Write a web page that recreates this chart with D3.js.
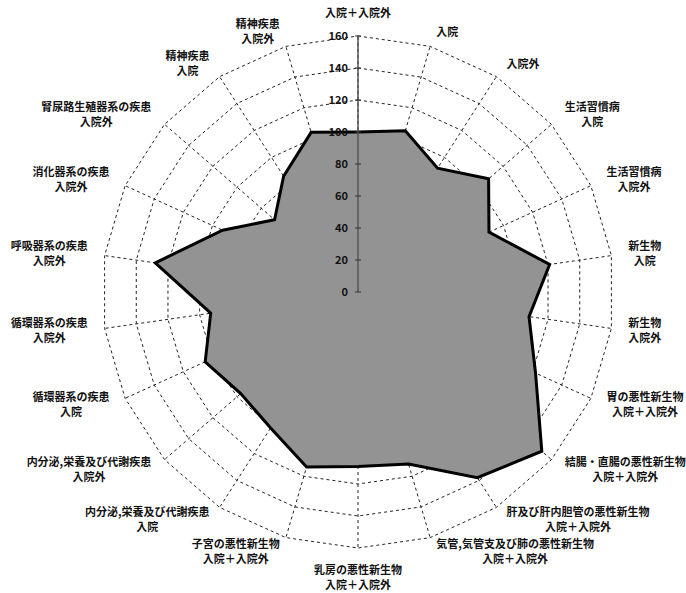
<!DOCTYPE html>
<html>
<head>
<meta charset="utf-8">
<script src="https://cdn.jsdelivr.net/npm/d3@7"></script>
<style>
  html, body { margin: 0; padding: 0; background: #fff; }
  text { font-family: "Noto Sans CJK JP", "Noto Sans", sans-serif; font-weight: bold; fill: #111; }
</style>
</head>
<body>
<div id="chart"></div>
<script>
// categories clockwise from the top
const categories = [
  "入院＋入院外",
  "入院",
  "入院外",
  "生活習慣病\n入院",
  "生活習慣病\n入院外",
  "新生物\n入院",
  "新生物\n入院外",
  "胃の悪性新生物\n入院＋入院外",
  "結腸・直腸の悪性新生物\n入院＋入院外",
  "肝及び肝内胆管の悪性新生物\n入院＋入院外",
  "気管,気管支及び肺の悪性新生物\n入院＋入院外",
  "乳房の悪性新生物\n入院＋入院外",
  "子宮の悪性新生物\n入院＋入院外",
  "内分泌,栄養及び代謝疾患\n入院",
  "内分泌,栄養及び代謝疾患\n入院外",
  "循環器系の疾患\n入院",
  "循環器系の疾患\n入院外",
  "呼吸器系の疾患\n入院外",
  "消化器系の疾患\n入院外",
  "腎尿路生殖器系の疾患\n入院外",
  "精神疾患\n入院",
  "精神疾患\n入院外"
];

const values = [100, 105, 92, 108, 90, 121, 108, 122, 152, 138, 112, 109,
                114, 101, 97, 105, 93, 128, 93, 69, 86, 104];

const tickValues = [0, 20, 40, 60, 80, 100, 120, 140, 160];

const width = 686, height = 593;
const cx = 358, cy = 292, R = 256;

const r = d3.scaleLinear().domain([0, 160]).range([0, R]);
const n = categories.length;
const angle = i => i * 2 * Math.PI / n;

const svg = d3.select("#chart").append("svg")
    .attr("width", width)
    .attr("height", height);

const g = svg.append("g").attr("transform", `translate(${cx},${cy})`);

// web rings
const ring = t => d3.lineRadial()
    .angle((d, i) => angle(i))
    .radius(r(t))
    .curve(d3.curveLinearClosed)(categories);

g.selectAll("path.ring")
  .data(tickValues.filter(t => t > 0))
  .enter().append("path")
    .attr("class", "ring")
    .attr("d", ring)
    .attr("fill", "none")
    .attr("stroke", "#222")
    .attr("stroke-width", 1)
    .attr("stroke-dasharray", "3,3");

// spokes
g.selectAll("line.spoke")
  .data(categories)
  .enter().append("line")
    .attr("class", "spoke")
    .attr("x1", 0).attr("y1", 0)
    .attr("x2", (d, i) => r(160) * Math.sin(angle(i)))
    .attr("y2", (d, i) => -r(160) * Math.cos(angle(i)))
    .attr("stroke", "#222")
    .attr("stroke-width", 1)
    .attr("stroke-dasharray", "3,3");

// data area
const area = d3.lineRadial()
    .angle((d, i) => angle(i))
    .radius(d => r(d))
    .curve(d3.curveLinearClosed);

g.append("path")
    .attr("d", area(values))
    .attr("fill", "#939393")
    .attr("stroke", "#000")
    .attr("stroke-width", 3)
    .attr("stroke-linejoin", "miter");

// value axis on the first spoke
g.append("line")
    .attr("x1", 0).attr("y1", 0)
    .attr("x2", 0).attr("y2", -r(160))
    .attr("stroke", "#555")
    .attr("stroke-width", 1.5);

g.selectAll("line.tick")
  .data(tickValues)
  .enter().append("line")
    .attr("class", "tick")
    .attr("x1", -3).attr("x2", 3)
    .attr("y1", d => -r(d)).attr("y2", d => -r(d))
    .attr("stroke", "#333");

g.selectAll("text.tick")
  .data(tickValues)
  .enter().append("text")
    .attr("class", "tick")
    .attr("x", -10)
    .attr("y", d => -r(d))
    .attr("dy", "0.35em")
    .attr("text-anchor", "end")
    .style("font-size", "11px")
    .text(d => d);

// category labels: side labels hang off the spoke end, top/bottom ones are centred
const Rl = 271, lh = 15;
categories.forEach((c, i) => {
  const lines = c.split("\n");
  const a = angle(i);
  const s = Math.sin(a), co = Math.cos(a);
  const t = g.append("text")
      .attr("text-anchor", "middle")
      .style("font-size", "11px");
  const spans = t.selectAll("tspan").data(lines).enter().append("tspan").text(d => d);
  const w = d3.max(spans.nodes(), sp => sp.getComputedTextLength());
  const h = lines.length * lh;
  const px = Rl * s, py = -Rl * co;
  let bx, by;
  if (Math.abs(s) < 0.05) {
    bx = px;
    by = py - Math.sign(co) * h / 2;
  } else {
    bx = px + Math.sign(s) * (w / 2 + 2);
    by = py;
  }
  spans.attr("x", bx)
       .attr("y", (d, k) => by - h / 2 + lh * (k + 0.5))
       .attr("dy", "0.35em");
});
</script>
</body>
</html>
